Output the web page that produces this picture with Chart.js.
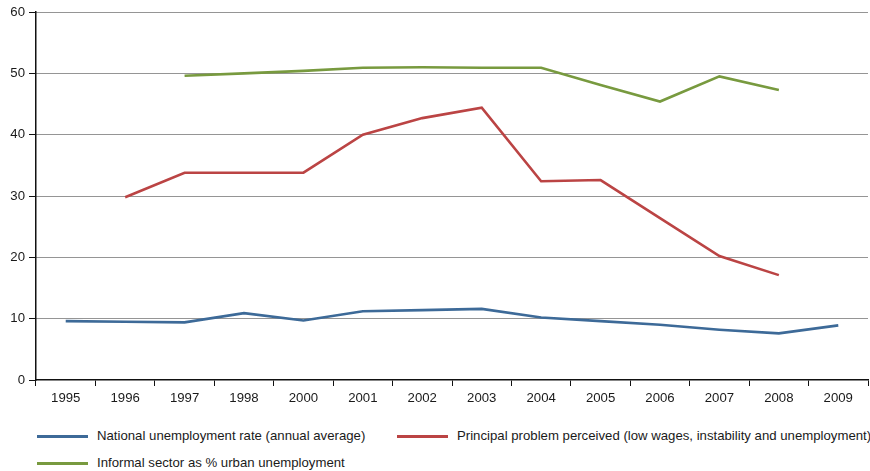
<!DOCTYPE html>
<html>
<head>
<meta charset="utf-8">
<script src="https://cdn.jsdelivr.net/npm/chart.js@4.4.1/dist/chart.umd.min.js"></script>
<style>
  html, body { margin: 0; padding: 0; background: #fff; }
  #wrap { position: relative; width: 870px; height: 471px; font-family: 'Liberation Sans', Arial, sans-serif; color: #1a1a1a; }
  #chart-box { position: absolute; left: 0; top: 0; width: 870px; height: 410px; }
  .lg { position: absolute; font-size: 13.2px; line-height: 16px; white-space: nowrap; }
  .lg i { position: absolute; left: 0; top: 7px; width: 51px; height: 3px; }
  .lg span { position: absolute; left: 60px; top: 0; }
</style>
</head>
<body>
<div id="wrap">
  <div id="chart-box"><canvas id="c"></canvas></div>
  <div class="lg" style="left:37px; top:428px;"><i style="background:#3d6a98"></i><span>National unemployment rate (annual average)</span></div>
  <div class="lg" style="left:397px; top:428px;"><i style="background:#bb4444"></i><span>Principal problem perceived (low wages, instability and unemployment)</span></div>
  <div class="lg" style="left:37px; top:455px;"><i style="background:#789a3f"></i><span>Informal sector as % urban unemployment</span></div>
</div>
<script>
const years = ['1995', '1996', '1997', '1998', '2000', '2001', '2002', '2003', '2004', '2005', '2006', '2007', '2008', '2009'];
const nationalRate  = [9.6, 9.5, 9.4, 10.9, 9.7, 11.2, 11.4, 11.6, 10.2, 9.6, 9.0, 8.2, 7.6, 8.9];
const problemPerceived = [null, 29.8, 33.8, 33.8, 33.8, 40.0, 42.7, 44.4, 32.4, 32.6, 26.4, 20.2, 17.1, null];
const informalSector = [null, null, 49.6, 50.0, 50.4, 50.9, 51.0, 50.9, 50.9, 48.1, 45.4, 49.5, 47.3, null];
const yTicks = [0, 10, 20, 30, 40, 50, 60];

const BLUE  = '#3d6a98';
const RED   = '#bb4444';
const GREEN = '#789a3f';
const FONT  = { family: "'Liberation Sans', Arial, sans-serif", size: 13.2 };

function series(label, data, color) {
  return {
    label,
    data,
    borderColor: color,
    backgroundColor: color,
    borderWidth: 2.6,
    pointRadius: 0,
    tension: 0,
    spanGaps: false,
    fill: false,
  };
}

new Chart(document.getElementById('c'), {
  type: 'line',
  data: {
    labels: years,
    datasets: [
      series('National unemployment rate (annual average)', nationalRate, BLUE),
      series('Principal problem perceived (low wages, instability and unemployment)', problemPerceived, RED),
      series('Informal sector as % urban unemployment', informalSector, GREEN),
    ],
  },
  options: {
    responsive: true,
    maintainAspectRatio: false,
    animation: false,
    layout: { padding: { top: 12, right: 2, left: 0, bottom: 0 } },
    plugins: { legend: { display: false }, tooltip: { enabled: false } },
    scales: {
      x: {
        offset: true,
        grid: { offset: true, drawOnChartArea: false, drawTicks: true, tickLength: 6, color: '#111', lineWidth: 1 },
        border: { color: '#111', width: 1.5 },
        ticks: { color: '#1a1a1a', font: FONT, padding: 4, maxRotation: 0, autoSkip: false },
        afterFit: (s) => { s.height = 30; },
      },
      y: {
        min: 0,
        max: 60,
        afterBuildTicks: (s) => { s.ticks = yTicks.map((v) => ({ value: v })); },
        grid: {
          color: (ctx) => (ctx.tick && ctx.tick.value === 0 ? 'rgba(0,0,0,0)' : '#2a2a2a'),
          lineWidth: 1,
          tickLength: 7,
          tickColor: '#111',
          tickBorderDash: [],
        },
        border: { color: '#111', width: 1.5, dash: [1, 1] },
        ticks: { color: '#1a1a1a', font: FONT, padding: 4 },
        afterFit: (s) => { s.width = 36; },
      },
    },
  },
});
</script>
</body>
</html>
